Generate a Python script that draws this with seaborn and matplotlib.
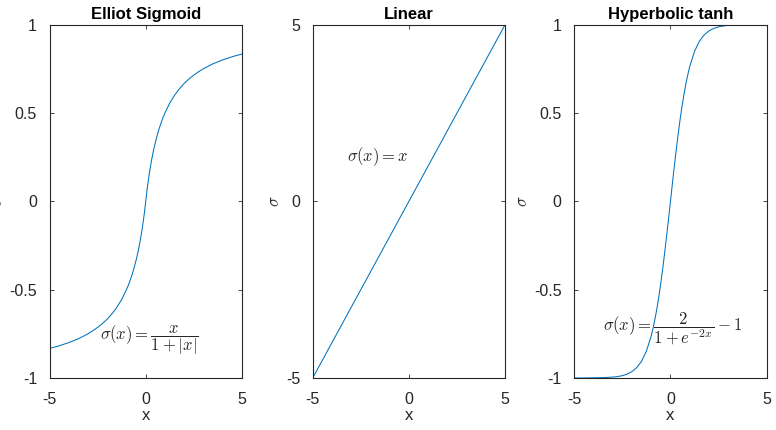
import numpy as np
import pandas as pd
import matplotlib
matplotlib.use('Agg')
import matplotlib.pyplot as plt
import seaborn as sns

# values
x_elliot = [-5, -4.5, -4, -3.5, -3, -2.75, -2.5, -2.25, -2, -1.75, -1.5, -1.25, -1, -0.9, -0.8, -0.7,
            -0.6, -0.5, -0.4, -0.3, -0.2, -0.1, -0.05, 0,
            0.05, 0.1, 0.2, 0.3, 0.4, 0.5, 0.6, 0.7, 0.8, 0.9, 1, 1.25, 1.5, 1.75, 2, 2.25, 2.5, 2.75,
            3, 3.5, 4, 4.5, 5]
y_elliot = [-0.833, -0.818, -0.8, -0.778, -0.75, -0.733, -0.714, -0.692, -0.667, -0.636, -0.6, -0.556,
            -0.5, -0.474, -0.444, -0.412, -0.375, -0.333, -0.286, -0.231, -0.167, -0.091, -0.048, 0,
            0.048, 0.091, 0.167, 0.231, 0.286, 0.333, 0.375, 0.412, 0.444, 0.474, 0.5, 0.556, 0.6, 0.636,
            0.667, 0.692, 0.714, 0.733, 0.75, 0.778, 0.8, 0.818, 0.833]

x_linear = [-5, 5]
y_linear = [-5, 5]

x_tanh = [-5, -4.5, -4, -3.5, -3, -2.75, -2.5, -2.25, -2, -1.75, -1.5, -1.25, -1, -0.9, -0.8, -0.7,
          -0.6, -0.5, -0.4, -0.3, -0.2, -0.1, 0,
          0.1, 0.2, 0.3, 0.4, 0.5, 0.6, 0.7, 0.8, 0.9, 1, 1.25, 1.5, 1.75, 2, 2.25, 2.5, 2.75,
          3, 3.5, 4, 4.5, 5]
y_tanh = [-1.0, -1.0, -0.999, -0.998, -0.995, -0.992, -0.987, -0.978, -0.964, -0.941, -0.905, -0.848,
          -0.762, -0.716, -0.664, -0.604, -0.537, -0.462, -0.380, -0.291, -0.197, -0.100, 0,
          0.100, 0.197, 0.291, 0.380, 0.462, 0.537, 0.604, 0.664, 0.716, 0.762, 0.848, 0.905, 0.941,
          0.964, 0.978, 0.987, 0.992, 0.995, 0.998, 0.999, 1.0, 1.0]

titles = ['Elliot Sigmoid', 'Linear', 'Hyperbolic tanh']
formulas = [r'$\sigma(x) = \dfrac{x}{1+|x|}$', r'$\sigma(x) = x$', r'$\sigma(x) = \dfrac{2}{1+e^{-2x}} - 1$']
xticks = [-5, 0, 5]
yticks_unit = [-1, -0.5, 0, 0.5, 1]
yticklabels_unit = ['-1', '-0.5', '0', '0.5', '1']
yticks_lin = [-5, 0, 5]
yticklabels_lin = ['-5', '0', '5']

#%%

sns.set_style('white')
plt.rcParams['font.family'] = ['Liberation Sans', 'DejaVu Sans']
plt.rcParams['mathtext.fontset'] = 'cm'
plt.rcParams['axes.unicode_minus'] = False

edge = '#262626'
blue = '#0072BD'

fig = plt.figure(figsize=(7.76, 4.30), dpi=100)
lefts = [0.0638, 0.403, 0.740]
axes = [fig.add_axes([l, 0.121, 0.248, 0.822]) for l in lefts]

series = [(x_elliot, y_elliot), (x_linear, y_linear), (x_tanh, y_tanh)]
ylims = [(-1, 1), (-5, 5), (-1, 1)]
yt = [(yticks_unit, yticklabels_unit), (yticks_lin, yticklabels_lin), (yticks_unit, yticklabels_unit)]
text_pos = [(-2.4, -0.785), (-3.2, 1.25), (-3.5, -0.72)]

for i, ax in enumerate(axes):
    df = pd.DataFrame({'x': series[i][0], 'y': series[i][1]})
    sns.lineplot(data=df, x='x', y='y', ax=ax, color=blue, linewidth=0.75)
    ax.set_xlim(-5, 5)
    ax.set_ylim(*ylims[i])
    ax.set_xticks(xticks)
    ax.set_xticklabels([str(t) for t in xticks])
    ax.set_yticks(yt[i][0])
    ax.set_yticklabels(yt[i][1])
    ax.tick_params(direction='in', length=3, width=0.6, colors=edge, labelsize=11.5,
                   top=True, right=True, bottom=True, left=True)
    ax.tick_params(axis='x', pad=10)
    ax.tick_params(axis='y', pad=9)
    for s in ax.spines.values():
        s.set_color(edge)
        s.set_linewidth(0.8)
    ax.set_title(titles[i], fontsize=12, fontweight='bold', color='black', pad=4)
    ax.set_xlabel('x', fontsize=12, color=edge, labelpad=1)
    ax.set_ylabel(r'$\sigma$', fontsize=12, color=edge, labelpad=3)
    ax.text(text_pos[i][0], text_pos[i][1], formulas[i], fontsize=12, va='center', ha='left', color=edge)

plt.savefig('out.png', dpi=100)
